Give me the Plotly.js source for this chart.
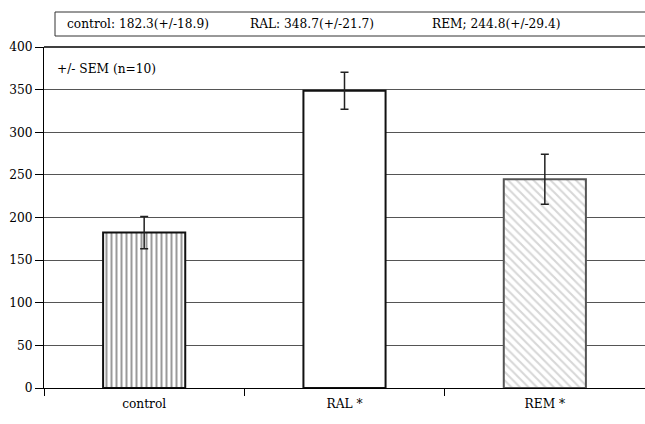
<!DOCTYPE html>
<html><head><meta charset="utf-8">
<script src="https://cdn.plot.ly/plotly-3.0.1.min.js"></script>
<style>html,body{margin:0;padding:0;background:#fff}</style>
</head><body>
<div id="chart" style="width:645px;height:424px"></div>
<script>
const categories = ["control", "RAL *", "REM *"];
const means = [182.3, 348.7, 244.8];
const sems = [18.9, 21.7, 29.4];
const legendTexts = ["control: 182.3(+/-18.9)", "RAL: 348.7(+/-21.7)", "REM; 244.8(+/-29.4)"];
const yTicks = [0, 50, 100, 150, 200, 250, 300, 350, 400];

const font = {family: "DejaVu Serif", size: 12.2, color: "#000"};

const trace = {
  type: "bar",
  x: categories,
  y: means,
  width: 0.41,
  error_y: {type: "data", array: sems, visible: true, color: "#222", thickness: 1.5, width: 4},
  marker: {
    color: "#ffffff",
    line: {color: ["#111", "#111", "#555"], width: 2},
    pattern: {
      shape: ["|", "", "\\"],
      fgcolor: ["#333333", "#ffffff", "#b0b0b0"],
      size: [5, 5, 6],
      solidity: [0.4, 0.3, 0.35],
      fillmode: "overlay"
    }
  },
  hoverinfo: "none"
};

const annotations = [
  {xref: "paper", yref: "paper", x: (55 - 44) / 601, y: (388 - 69) / 341, xanchor: "left", yanchor: "middle", text: "+/- SEM (n=10)", showarrow: false, font: font}
];
const lx = [65, 248, 430];
legendTexts.forEach((t, i) => {
  annotations.push({xref: "paper", yref: "paper", x: (lx[i] - 44) / 601, y: (388 - 24) / 341, xanchor: "left", yanchor: "middle", text: t, showarrow: false, font: font});
});

const layout = {
  width: 645, height: 424,
  margin: {l: 44, r: 0, t: 47, b: 36, pad: 0},
  paper_bgcolor: "#fff", plot_bgcolor: "#fff",
  showlegend: false,
  font: font,
  xaxis: {
    type: "category", range: [-0.5, 2.5],
    showline: true, linecolor: "#000", linewidth: 1,
    ticks: "outside", tickson: "boundaries", ticklen: 7, tickcolor: "#000",
    ticklabelstandoff: 4,
    showgrid: false, tickfont: font, fixedrange: true
  },
  yaxis: {
    range: [0, 400], tickvals: yTicks, ticktext: yTicks.map(String),
    showline: true, linecolor: "#000", linewidth: 1,
    ticks: "outside", ticklen: 8, tickcolor: "#000",
    showgrid: true, gridcolor: "#555", gridwidth: 1,
    zeroline: false, tickfont: font, fixedrange: true
  },
  shapes: [
    {type: "rect", xref: "paper", yref: "paper", x0: (55 - 44) / 601, x1: 1.02, y0: (388 - 36) / 341, y1: (388 - 12) / 341, line: {color: "#333", width: 1}, fillcolor: "rgba(0,0,0,0)"},
    {type: "line", xref: "paper", yref: "paper", x0: 0, x1: 1, y0: 1, y1: 1, line: {color: "#000", width: 1.5}}
  ],
  annotations: annotations
};

Plotly.newPlot("chart", [trace], layout, {displayModeBar: false});
</script>
</body></html>
